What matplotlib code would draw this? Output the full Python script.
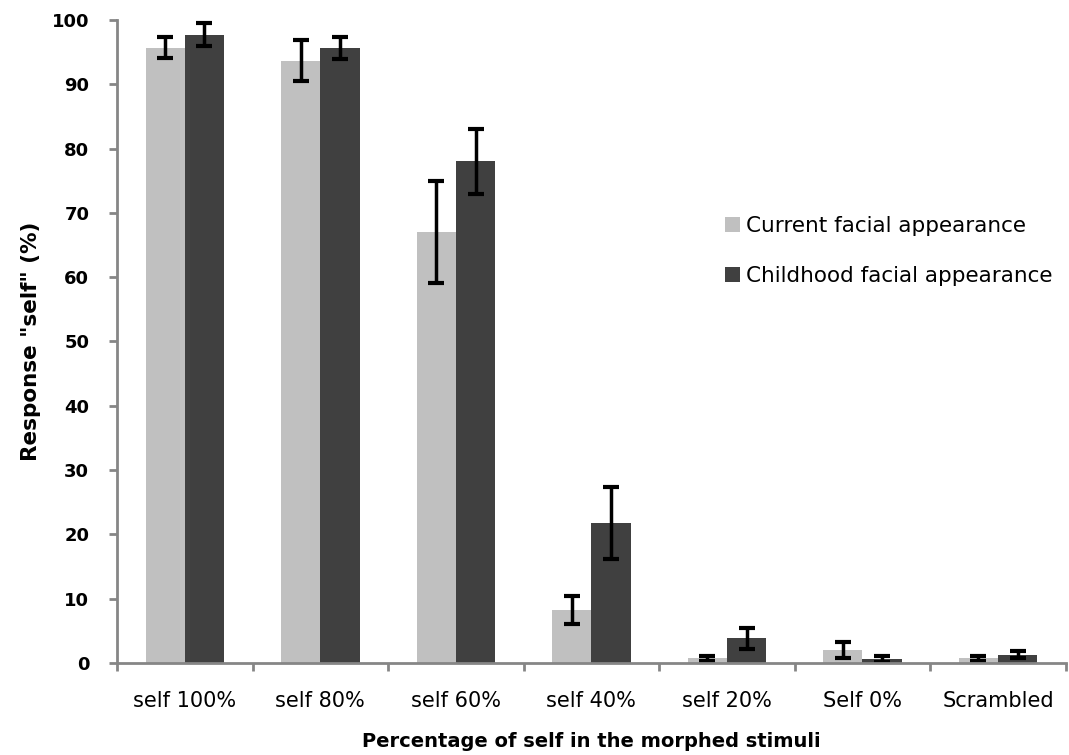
import matplotlib; matplotlib.use('Agg')
import matplotlib.pyplot as plt
import numpy as np

categories = ["self 100%", "self 80%", "self 60%", "self 40%", "self 20%", "Self 0%", "Scrambled"]
current = [95.7, 93.7, 67.0, 8.2, 0.7, 2.0, 0.7]
current_err = [1.6, 3.2, 7.9, 2.2, 0.4, 1.2, 0.4]
childhood = [97.7, 95.7, 78.0, 21.8, 3.8, 0.6, 1.3]
childhood_err = [1.8, 1.7, 5.1, 5.6, 1.6, 0.4, 0.6]

LIGHT = '#C0C0C0'
DARK = '#404040'
AXIS = '#868686'

fig = plt.figure(figsize=(10.69, 7.55), dpi=100)
ax = fig.add_axes([0.1095, 0.122, 0.8875, 0.8515])

x = np.arange(len(categories))
width = 0.29
err_kw = dict(ecolor='black', elinewidth=2.5, capsize=5.5, capthick=3)

ax.bar(x - width / 2, current, width, color=LIGHT, label='Current facial appearance',
       yerr=current_err, error_kw=err_kw)
ax.bar(x + width / 2, childhood, width, color=DARK, label='Childhood facial appearance',
       yerr=childhood_err, error_kw=err_kw)

ax.set_xlim(-0.5, len(categories) - 0.5)
ax.set_ylim(0, 100)
ax.set_yticks(np.arange(0, 101, 10))
ax.set_yticklabels([str(v) for v in range(0, 101, 10)], fontsize=13, fontweight='bold')

# category labels centred, ticks at category boundaries
ax.set_xticks(x)
ax.set_xticklabels(categories, fontsize=15)
ax.tick_params(axis='x', which='major', length=0, pad=20)
ax.set_xticks(np.arange(-0.5, len(categories)), minor=True)
ax.tick_params(axis='x', which='minor', length=6, width=2, color=AXIS, direction='out')
ax.tick_params(axis='y', length=6, width=2, color=AXIS, direction='out', pad=14)

for side in ['top', 'right']:
    ax.spines[side].set_visible(False)
for side in ['left', 'bottom']:
    ax.spines[side].set_color(AXIS)
    ax.spines[side].set_linewidth(2)

ax.set_ylabel('Response "self" (%)', fontsize=15.5, fontweight='bold', labelpad=8)
ax.set_xlabel('Percentage of self in the morphed stimuli', fontsize=14, fontweight='bold', labelpad=15)

ax.legend(loc='upper left', bbox_to_anchor=(0.62, 0.725), frameon=False, fontsize=15.5,
          handlelength=0.7, handleheight=0.7, handletextpad=0.3, labelspacing=1.4)

plt.savefig('out.png', dpi=100)
plt.close()
